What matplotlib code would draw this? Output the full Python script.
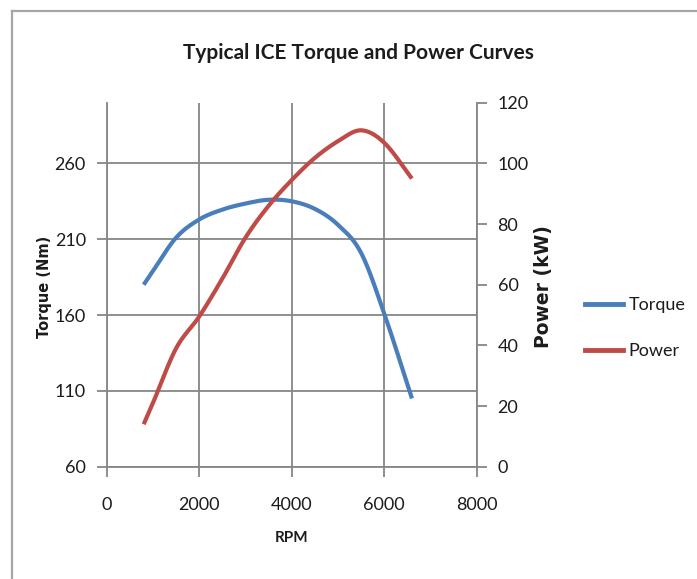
import numpy as np
import matplotlib
matplotlib.use("Agg")
import matplotlib.pyplot as plt
from matplotlib.lines import Line2D

# ---- data ----
rpm = [800, 1000, 1500, 2000, 2500, 3000, 3500, 4000, 4500, 5000, 5500, 6000, 6600]
torque = [180, 189, 211, 223, 229.5, 233.5, 236, 235, 230, 219.5, 201, 161, 105]
power = [14, 21, 39, 49.5, 62, 75.5, 86, 94.5, 101.8, 107.3, 110.9, 106.8, 95]

x_ticks = [0, 2000, 4000, 6000, 8000]
torque_ticks = [60, 110, 160, 210, 260]
power_ticks = [0, 20, 40, 60, 80, 100, 120]

title = "Typical ICE Torque and Power Curves"
series_names = ["Torque", "Power"]

BLUE = "#4A7EBB"
RED = "#BE4B48"
GRID = "#868686"
TXT = "#1c1c1c"
CAL = ["Lato", "DejaVu Sans"]


def smooth(xs, ys, n=30):
    """Cubic Hermite smoothing through the data points (like Excel's smoothed line)."""
    x = np.asarray(xs, float)
    y = np.asarray(ys, float)
    m = np.empty_like(y)
    m[1:-1] = (y[2:] - y[:-2]) / (x[2:] - x[:-2])
    m[0] = (y[1] - y[0]) / (x[1] - x[0])
    m[-1] = (y[-1] - y[-2]) / (x[-1] - x[-2])
    ox, oy = [], []
    for i in range(len(x) - 1):
        h = x[i + 1] - x[i]
        t = np.linspace(0, 1, n, endpoint=False)
        h00 = 2 * t ** 3 - 3 * t ** 2 + 1
        h10 = t ** 3 - 2 * t ** 2 + t
        h01 = -2 * t ** 3 + 3 * t ** 2
        h11 = t ** 3 - t ** 2
        ox.append(x[i] + t * h)
        oy.append(h00 * y[i] + h10 * h * m[i] + h01 * y[i + 1] + h11 * h * m[i + 1])
    ox.append([x[-1]])
    oy.append([y[-1]])
    return np.concatenate(ox), np.concatenate(oy)


fig = plt.figure(figsize=(6.97, 5.79), dpi=100)
W, H = 697, 579
ax = fig.add_axes([106.7 / W, 1 - 466.7 / H, 370 / W, 364 / H])
ax2 = ax.twinx()

tx, ty = smooth(rpm, torque)
px, py = smooth(rpm, power)
ax.plot(tx, ty, color=BLUE, lw=3.0, solid_capstyle="butt", zorder=3)
ax2.plot(px, py, color=RED, lw=3.0, solid_capstyle="butt", zorder=3)

ax.set_xlim(0, 8000)
ax.set_ylim(60, 300)
ax2.set_ylim(0, 120)
ax.set_xticks(x_ticks)
ax.set_yticks(torque_ticks)
ax2.set_yticks(power_ticks)

ax.grid(True, color=GRID, lw=1.3)
for s in ["top", "right"]:
    ax.spines[s].set_visible(False)
for s in ["top", "left", "bottom"]:
    ax2.spines[s].set_visible(False)
for a in (ax, ax2):
    for s in a.spines.values():
        s.set_color(GRID)
        s.set_linewidth(1.3)

ax.tick_params(axis="both", direction="out", length=7, width=1.3, color=GRID,
               labelcolor=TXT, labelsize=13)
ax.tick_params(axis="x", pad=15)
ax.tick_params(axis="y", pad=8)
ax2.tick_params(axis="y", direction="out", length=7, width=1.3, color=GRID,
                labelcolor=TXT, labelsize=13, pad=8)
for lab in ax.get_xticklabels() + ax.get_yticklabels() + ax2.get_yticklabels():
    lab.set_family(CAL)

fig.text(358 / W, 1 - 53 / H, title, ha="center", va="center", fontsize=15,
         fontweight="bold", family=CAL, color=TXT)
fig.text(292 / W, 1 - 538 / H, "RPM", ha="center", va="center", fontsize=11,
         fontweight="bold", family=CAL, color=TXT)
fig.text(45 / W, 1 - 287 / H, "Torque (Nm)", ha="center", va="center", rotation=90,
         fontsize=10.5, fontweight="bold", family="DejaVu Sans", color=TXT)
fig.text(544 / W, 1 - 287 / H, "Power (kW)", ha="center", va="center", rotation=90,
         fontsize=13.5, fontweight="bold", family="DejaVu Sans", color=TXT)

handles = [Line2D([], [], color=BLUE, lw=3.5), Line2D([], [], color=RED, lw=3.5)]
leg = fig.legend(handles, series_names, loc="center left",
                 bbox_to_anchor=(585 / W, 1 - 328 / H), frameon=False,
                 handlelength=2.1, handletextpad=0.3, labelspacing=1.65,
                 borderaxespad=0, borderpad=0,
                 prop={"family": CAL, "size": 13})
for t in leg.get_texts():
    t.set_color(TXT)

# screenshot frame lines on the top and left edges
fig.add_artist(Line2D([11.5 / W, 11.5 / W], [0, 1 - 11 / H], transform=fig.transFigure,
                      color="#a6a6a6", lw=1.6))
fig.add_artist(Line2D([11.5 / W, 1], [1 - 11 / H, 1 - 11 / H], transform=fig.transFigure,
                      color="#a6a6a6", lw=1.6))

fig.savefig("out.png", dpi=100)
